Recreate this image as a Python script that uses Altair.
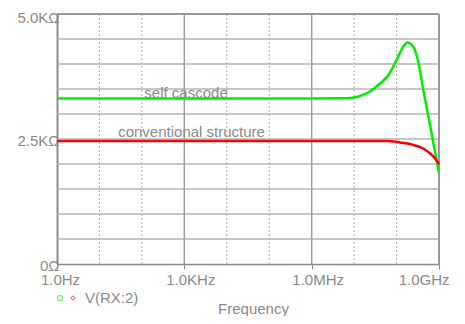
import altair as alt
import pandas as pd

# Green: self cascode (log10 frequency, ohms)
green_logf = [0.0, 3.0, 6.0, 6.83, 7.10, 7.375, 7.61, 7.81, 8.00, 8.16, 8.25, 8.39, 8.51, 8.63, 8.75, 8.87, 9.0]
green_val = [3310, 3310, 3310, 3315, 3350, 3450, 3610, 3780, 4080, 4350, 4430, 4350, 4050, 3480, 2950, 2410, 1820]

# Red: conventional structure
red_logf = [0.0, 3.0, 6.0, 7.78, 8.08, 8.40, 8.63, 8.79, 8.91, 9.0]
red_val = [2460, 2460, 2460, 2460, 2430, 2380, 2310, 2210, 2110, 1990]

x_ticks = [1, 1e3, 1e6, 1e9]
x_tick_labels = ["1.0Hz", "1.0KHz", "1.0MHz", "1.0GHz"]
y_ticks = [0, 2500, 5000]
y_tick_labels = ["0Ω", "2.5KΩ", "5.0KΩ"]
decades = [10, 100, 1e3, 1e4, 1e5, 1e6, 1e7, 1e8]
y_grid = [500, 1000, 1500, 2000, 2500, 3000, 3500, 4000, 4500]

FONT = "Liberation Sans"
GRAY = "#8a8a8a"
GRID = "#b4b4b4"

rows = []
for lf, v in zip(green_logf, green_val):
    rows.append({"f": 10 ** lf, "v": v, "s": "self cascode"})
for lf, v in zip(red_logf, red_val):
    rows.append({"f": 10 ** lf, "v": v, "s": "conventional structure"})
df = pd.DataFrame(rows)

xscale = alt.Scale(type="log", domain=[1, 1e9], nice=False)
yscale = alt.Scale(domain=[0, 5000], nice=False)

xmap = "{" + ", ".join(f"'{int(v)}': '{t}'" for v, t in zip(x_ticks, x_tick_labels)) + "}"
ymap = "{" + ", ".join(f"'{int(v)}': '{t}'" for v, t in zip(y_ticks, y_tick_labels)) + "}"

base_x = alt.X("f:Q", scale=xscale,
               axis=alt.Axis(values=x_ticks, labelExpr=xmap + "[datum.value + '']",
                             title="Frequency", grid=False, tickSize=5, tickColor=GRAY,
                             domainColor=GRAY, domainWidth=1.5, labelColor=GRAY,
                             labelFont=FONT, labelFontSize=15, labelPadding=3,
                             labelAlign={"condition": {"test": "datum.value >= 1e9", "value": "right"}, "value": "center"},
                             labelOffset={"condition": [{"test": "datum.value >= 1e9", "value": 10},
                                                        {"test": "datum.value <= 1", "value": 3}],
                                          "value": 6},
                             titleFont=FONT, titleFontSize=15, titleColor=GRAY,
                             titleFontWeight="normal", titleBaseline="alphabetic", titleY=49,
                             titleX=196, labelFlush=False, labelOverlap=False))
base_y = alt.Y("v:Q", scale=yscale,
               axis=alt.Axis(values=y_ticks, labelExpr=ymap + "[datum.value + '']",
                             title=None, grid=False,
                             tickSize=0, domainColor=GRAY, domainWidth=2,
                             labelColor=GRAY, labelFont=FONT, labelFontSize=15,
                             labelPadding=-2, labelOverlap=False,
                             labelOffset={"condition": {"test": "datum.value == 5000", "value": 3}, "value": 1}))

lines = alt.Chart(df).mark_line(strokeWidth=2.5, interpolate="monotone").encode(
    x=base_x, y=base_y,
    color=alt.Color("s:N", scale=alt.Scale(domain=["self cascode", "conventional structure"],
                                           range=["#00ee00", "#ff0000"]), legend=None),
)

hgrid = alt.Chart(pd.DataFrame({"v": y_grid})).mark_rule(color=GRID, strokeWidth=1.5).encode(
    y=alt.Y("v:Q", scale=yscale))

vgrid_df = pd.DataFrame({"f": decades, "major": [d in (1e3, 1e6) for d in decades]})
vgrid_minor = alt.Chart(vgrid_df).transform_filter("!datum.major").mark_rule(
    color="#b0b0b0", strokeWidth=1, strokeDash=[2, 2]).encode(x=alt.X("f:Q", scale=xscale))
vgrid_major = alt.Chart(vgrid_df).transform_filter("datum.major").mark_rule(
    color="#a0a0a0", strokeWidth=1.5).encode(x=alt.X("f:Q", scale=xscale))

border = alt.Chart(pd.DataFrame({"f": [1e9]})).mark_rule(color="#999999", strokeWidth=2).encode(
    x=alt.X("f:Q", scale=xscale))
topb = alt.Chart(pd.DataFrame({"v": [5000]})).mark_rule(color="#999999", strokeWidth=2).encode(
    y=alt.Y("v:Q", scale=yscale))

lab_df = pd.DataFrame({"f": [10 ** 3.04, 10 ** 3.17], "v": [3330, 2540],
                       "t": ["self cascode", "conventional structure"]})
labels = alt.Chart(lab_df).mark_text(font=FONT, fontSize=15, color=GRAY, align="center",
                                     baseline="alphabetic").encode(
    x=alt.X("f:Q", scale=xscale), y=alt.Y("v:Q", scale=yscale), text="t:N")

leg_sq = alt.Chart(pd.DataFrame({"a": [1]})).mark_point(shape="square", size=20, color="#00ee00",
                                                        strokeWidth=1, filled=False).encode(
    x=alt.value(3), y=alt.value(284))
leg_dm = alt.Chart(pd.DataFrame({"a": [1]})).mark_point(shape="diamond", size=20, color="#ff0000",
                                                        strokeWidth=1, filled=False).encode(
    x=alt.value(16), y=alt.value(284))
leg_tx = alt.Chart(pd.DataFrame({"t": ["V(RX:2)"]})).mark_text(
    font=FONT, fontSize=15, color=GRAY, align="left", baseline="alphabetic").encode(
    x=alt.value(28), y=alt.value(289), text="t:N")

chart = alt.layer(hgrid, vgrid_minor, vgrid_major, border, topb, lines, labels, leg_sq, leg_dm, leg_tx).properties(
    width=382, height=250,
    autosize=alt.AutoSizeParams(type="none"),
    padding={"left": 49, "top": 6, "right": 18, "bottom": 52},
).configure_view(stroke=None).configure(background="white")

chart.save("out.html", embed_options={"renderer": "svg", "actions": False})
